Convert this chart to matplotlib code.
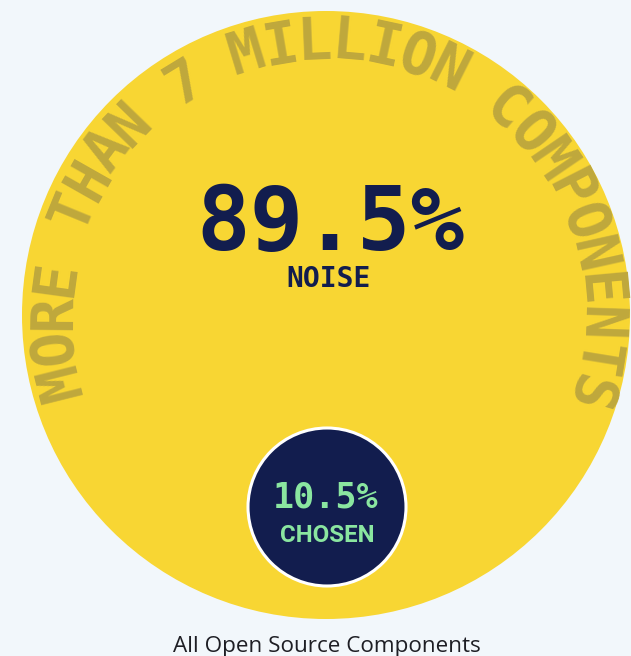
import numpy as np
import matplotlib
matplotlib.use("Agg")
import matplotlib.pyplot as plt
from matplotlib.patches import Circle
from matplotlib.font_manager import FontProperties

# values
shares = [89.5, 10.5]
share_labels = ["NOISE", "CHOSEN"]
ring_title = "MORE THAN 7 MILLION COMPONENTS"
caption = "All Open Source Components"

# layout (pixels, y downwards)
W, H, DPI = 631, 656, 100
PT = 72 / DPI
big_c, big_r = (326, 315), 304
small_c, small_r = (327, 507), 79
ring_base = 256            # baseline radius of the curved title
ring_size = 58             # font size of the curved title, px
ring_from, ring_to = 194.0, -16.5   # angles of first and last letter

BG = "#F2F7FB"
YELLOW = "#F8D633"
OLIVE = "#BFA83D"
NAVY = "#121D4E"
GREEN = "#8AE6A0"


def arc_text(ax, text, a0, a1, prop, size, radius, color):
    # monospaced letters spread evenly along the circle, reading clockwise
    angles = np.linspace(a0, a1, len(text))
    for ch, ang in zip(text, angles):
        if ch == " ":
            continue
        th = np.radians(ang)
        x = big_c[0] + radius * np.cos(th)
        y = big_c[1] - radius * np.sin(th)
        ax.text(x, y, ch, fontproperties=prop, fontsize=size * PT, color=color,
                rotation=ang - 90, rotation_mode="anchor",
                ha="center", va="baseline")


fig = plt.figure(figsize=(W / DPI, H / DPI), dpi=DPI)
fig.patch.set_facecolor(BG)
ax = fig.add_axes([0, 0, 1, 1])
ax.set_xlim(0, W)
ax.set_ylim(H, 0)
ax.axis("off")

ax.add_patch(Circle(big_c, big_r, facecolor=YELLOW, edgecolor="none"))
ax.add_patch(Circle(small_c, small_r, facecolor=NAVY, edgecolor="white", lw=2.2))

ring_prop = FontProperties(family="DejaVu Sans Mono", weight="bold")
arc_text(ax, ring_title, ring_from, ring_to, ring_prop, ring_size, ring_base, OLIVE)

mono = dict(family="DejaVu Sans Mono", weight="bold")
ax.text(330, 250, f"{shares[0]}%", ha="center", va="baseline",
        fontsize=89 * PT, color=NAVY, **mono)
ax.text(329, 287, share_labels[0], ha="center", va="baseline",
        fontsize=28 * PT, color=NAVY, **mono)
ax.text(326, 508, f"{shares[1]}%", ha="center", va="baseline",
        fontsize=35 * PT, color=GREEN, **mono)
ax.text(327, 542, share_labels[1], ha="center", va="baseline",
        fontsize=24 * PT, color=GREEN, family="Roboto", weight="bold")

ax.text(327, 652, caption, ha="center", va="baseline",
        fontsize=22.5 * PT, color="#1E1E24", family="Open Sans")

fig.savefig("out.png", dpi=DPI, facecolor=BG)
